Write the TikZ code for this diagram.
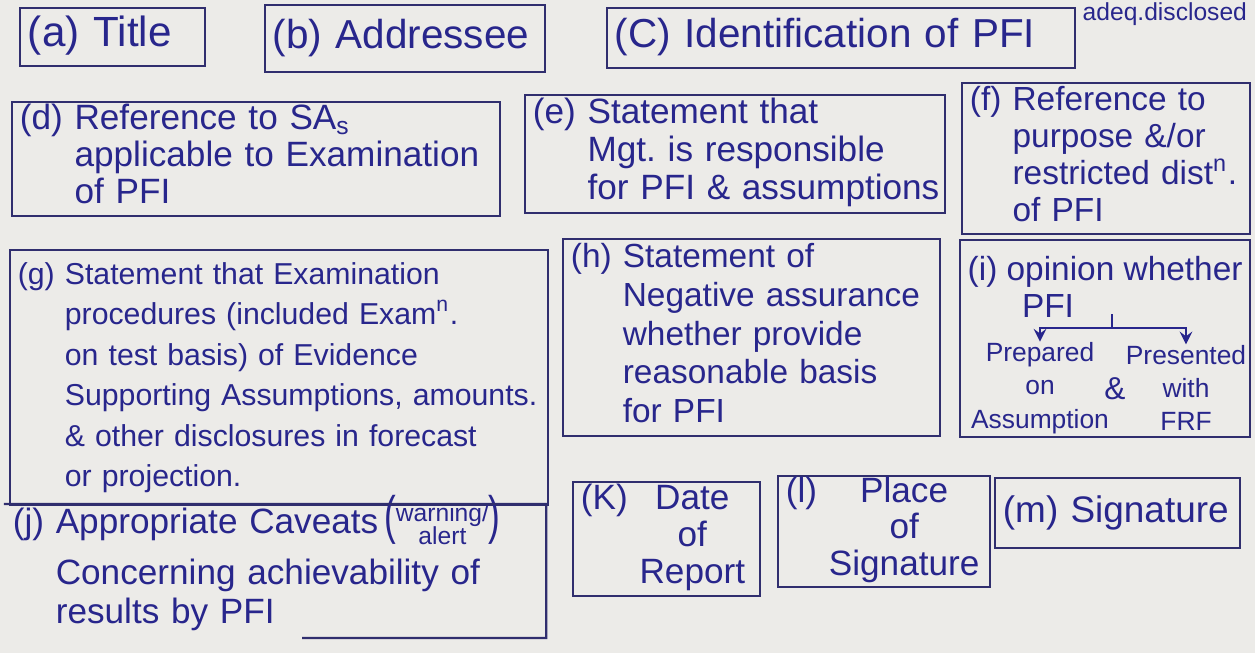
\documentclass[tikz,border=0pt]{standalone}
\usepackage{fontspec}
\setmainfont{Liberation Sans}
\usetikzlibrary{arrows, calc}
\definecolor{paper}{RGB}{236,235,232}
\definecolor{ink}{RGB}{40,38,140}
\definecolor{boxink}{RGB}{48,46,110}
\newcommand{\pfitem}[2]{#1~\begin{tabular}[t]{@{}l@{}}#2\end{tabular}}
\newcommand{\pfcitem}[2]{#1~\begin{tabular}[t]{@{}c@{}}#2\end{tabular}}
\tikzset{
  itembox/.style={draw=boxink, line width=0.6pt, inner xsep=0.08cm, inner ysep=0.5pt, align=left, text=ink},
  plain/.style={inner sep=0pt, text=ink},
  fork/.style={draw=ink, line width=0.6pt},
}

\begin{document}
\begin{tikzpicture}[x=0.01cm, y=-0.01cm, >=stealth]
\fill[paper] (0,0) rectangle (1255,653);
\useasboundingbox (0,0) rectangle (1255,653);

% top row
\node[itembox, font=\fontsize{12}{14}\selectfont, text width=1.69cm, minimum width=1.85cm, minimum height=0.58cm] (a) at (112.5,37) {\pfitem{(a)}{Title}};
\node[itembox, font=\fontsize{11.5}{14}\selectfont, text width=2.64cm, minimum width=2.80cm, minimum height=0.67cm] (b) at (405,38.5) {\pfitem{(b)}{Addressee}};
\node[itembox, font=\fontsize{11.5}{14}\selectfont, text width=4.52cm, minimum width=4.68cm, minimum height=0.60cm] (c) at (841,38) {\pfitem{(C)}{Identification of PFI}};
\node[plain, anchor=west, font=\fontsize{7}{8}\selectfont] (adeq) at (1082,14) {adeq.disclosed};

% second row
\node[itembox, font=\fontsize{10}{10.5}\selectfont, text width=4.72cm, minimum width=4.88cm, minimum height=1.12cm] (d) at (256,159) {\pfitem{(d)}{Reference to SA\textsubscript{s}\\applicable to Examination\\of PFI}};
\node[itembox, font=\fontsize{10}{10.8}\selectfont, text width=4.04cm, minimum width=4.20cm, minimum height=1.18cm] (e) at (735,154) {\pfitem{(e)}{Statement that\\Mgt.\ is responsible\\for PFI \& assumptions}};
\node[itembox, font=\fontsize{9.5}{10.5}\selectfont, text width=2.72cm, minimum width=2.88cm, minimum height=1.47cm] (f) at (1106,158.5) {\pfitem{(f)}{Reference to\\purpose \&/or\\restricted dist\textsuperscript{n}.\\of PFI}};

% third row
\node[itembox, font=\fontsize{8.6}{11.5}\selectfont, text width=5.22cm, minimum width=5.38cm, minimum height=2.55cm] (g) at (279,377.5) {\pfitem{(g)}{Statement that Examination\\procedures (included Exam\textsuperscript{n}.\\on test basis) of Evidence\\Supporting Assumptions, amounts.\\\& other disclosures in forecast\\or projection.}};
\node[itembox, font=\fontsize{9.5}{11}\selectfont, text width=3.61cm, minimum width=3.77cm, minimum height=1.95cm] (h) at (751.5,337.5) {\pfitem{(h)}{Statement of\\Negative assurance\\whether provide\\reasonable basis\\for PFI}};
\node[itembox, minimum width=2.90cm, minimum height=1.97cm] (i) at (1105,338.5) {};
\node[plain, anchor=north west, font=\fontsize{9.5}{11}\selectfont] (ihead) at (967,256) {(i) opinion whether};
\node[plain, font=\fontsize{9.5}{11}\selectfont] (ipfi) at (1048,306) {PFI};
\node[plain, align=center, font=\fontsize{7.5}{9.5}\selectfont] (prep) at (1040,388) {Prepared\\on\\Assumption};
\node[plain, align=center, font=\fontsize{7.5}{9.5}\selectfont] (pres) at (1186,388) {Presented\\with\\FRF};
\node[plain, font=\fontsize{9}{10}\selectfont] (amp) at (1115,389) {\&};
\coordinate (stem) at (1112,314);
\coordinate (split) at (1112,328);
\draw[fork] (stem) -- (split);
\draw[fork, ->] (split) -| (prep.north);
\draw[fork, ->] (split) -| (pres.north);

% bottom row
\node[itembox, draw=none, font=\fontsize{10}{11}\selectfont, text width=5.24cm, minimum width=5.40cm, minimum height=1.24cm] (j) at (275,571) {\pfitem{(j)}{Appropriate Caveats\,\smash{\scalebox{1}[1.5]{(}{\fontsize{7}{7.5}\selectfont\begin{tabular}[c]{@{}c@{}}warning/\\[-1pt]alert\end{tabular}}\scalebox{1}[1.5]{)}}\\[3.5pt]Concerning achievability of\\results by PFI}};
\draw[draw=boxink, line width=0.6pt] ($(j.south west)!0.55!(j.south east)$) -- (j.south east) -- (j.north east) -- (j.north west);
\node[itembox, font=\fontsize{10}{10.5}\selectfont, text width=1.71cm, minimum width=1.87cm, minimum height=1.12cm] (k) at (666.5,539) {\pfcitem{(K)}{Date\\of\\Report}};
\node[itembox, font=\fontsize{10}{10}\selectfont, text width=1.96cm, minimum width=2.12cm, minimum height=1.07cm] (l) at (884,531.5) {\pfcitem{(l)}{Place\\of\\Signature}};
\node[itembox, font=\fontsize{10.5}{13}\selectfont, text width=2.29cm, minimum width=2.45cm, minimum height=0.70cm] (m) at (1117.5,513) {\pfitem{(m)}{Signature}};
\end{tikzpicture}
\end{document}
